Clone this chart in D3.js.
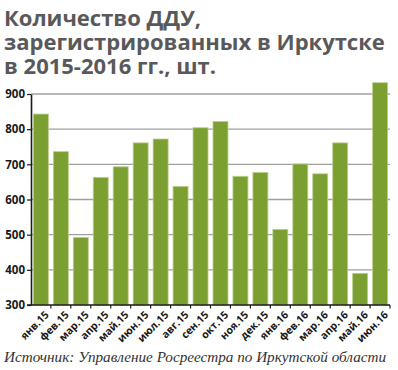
<!DOCTYPE html>
<html>
<head>
<meta charset="utf-8">
<script src="https://cdn.jsdelivr.net/npm/d3@7"></script>
<style>
  body { margin: 0; background: #fff; }
  svg { display: block; }
</style>
</head>
<body>
<svg id="chart"></svg>
<script>
// Data
const months = ['янв.15', 'фев.15', 'мар.15', 'апр.15', 'май.15', 'июн.15', 'июл.15', 'авг.15', 'сен.15',
    'окт.15', 'ноя.15', 'дек.15', 'янв.16', 'фев.16', 'мар.16', 'апр.16', 'май.16', 'июн.16'];
const counts = [843, 736, 492, 663, 693, 761, 772, 637, 804, 822, 666, 677, 515, 701, 673, 761, 390, 932];
const yTicks = [300, 400, 500, 600, 700, 800, 900];
const titleLines = ['Количество ДДУ,', 'зарегистрированных в Иркутске', 'в 2015-2016 гг., шт.'];
const sourceText = 'Источник: Управление Росреестра по Иркутской области';

const width = 398;
const height = 370;
const margin = { top: 94, right: 8, bottom: 65, left: 31 };

const svg = d3.select('#chart')
    .attr('width', width)
    .attr('height', height);

// Title (one text block, one tspan per line)
svg.append('text')
    .attr('fill', '#59595b')
    .attr('font-family', 'Open Sans')
    .attr('font-weight', 700)
    .attr('font-size', '22px')
    .selectAll('tspan')
    .data(titleLines)
    .enter()
    .append('tspan')
    .attr('x', 4)
    .attr('y', (d, i) => 26 + i * 24)
    .text(d => d);

const x = d3.scaleBand()
    .domain(months)
    .range([margin.left, width - margin.right])
    .paddingInner(0.25)
    .paddingOuter(0.12);

const y = d3.scaleLinear()
    .domain([300, 900])
    .range([height - margin.bottom, margin.top]);

// Grid lines
svg.append('g')
    .selectAll('line')
    .data(yTicks.slice(1))
    .enter()
    .append('line')
    .attr('x1', margin.left)
    .attr('x2', width - margin.right)
    .attr('y1', d => y(d))
    .attr('y2', d => y(d))
    .attr('stroke', '#a0a0a0')
    .attr('stroke-width', 1.3);

// Bars
svg.append('g')
    .selectAll('rect')
    .data(counts)
    .enter()
    .append('rect')
    .attr('x', (d, i) => x(months[i]))
    .attr('y', d => y(d))
    .attr('width', x.bandwidth())
    .attr('height', d => y(300) - y(d))
    .attr('fill', '#7b9f31')
    .attr('stroke', '#b9cf8c')
    .attr('stroke-width', 0.8);

// Y axis
const yAxis = svg.append('g')
    .attr('transform', `translate(${margin.left},0)`)
    .call(d3.axisLeft(y).tickValues(yTicks).tickSize(4).tickSizeOuter(0).tickPadding(2));

yAxis.select('.domain').attr('stroke', '#1a1a1a').attr('stroke-width', 1.6);
yAxis.selectAll('.tick line').attr('stroke', '#1a1a1a').attr('stroke-width', 1.2);
yAxis.selectAll('.tick text')
    .attr('fill', '#1a1a1a')
    .attr('font-family', 'Open Sans')
    .attr('font-weight', 700)
    .attr('font-size', '11.5px');

// X axis line with ticks at band boundaries
const xBase = y(300);
const bounds = months.map(m => x(m) - x.step() * x.paddingInner() / 2).concat([width - margin.right]);

svg.append('line')
    .attr('x1', margin.left - 4)
    .attr('x2', width - margin.right)
    .attr('y1', xBase)
    .attr('y2', xBase)
    .attr('stroke', '#1a1a1a')
    .attr('stroke-width', 1.6);

svg.append('g')
    .selectAll('line')
    .data(bounds.slice(1))
    .enter()
    .append('line')
    .attr('x1', d => d)
    .attr('x2', d => d)
    .attr('y1', xBase)
    .attr('y2', xBase + 3.5)
    .attr('stroke', '#1a1a1a')
    .attr('stroke-width', 1.2);

// Rotated month labels
svg.append('g')
    .selectAll('text')
    .data(months)
    .enter()
    .append('text')
    .attr('transform', d => `translate(${x(d) + x.bandwidth() / 2 + 6},${xBase + 8}) rotate(-45)`)
    .attr('text-anchor', 'end')
    .attr('dy', '0.35em')
    .attr('fill', '#1a1a1a')
    .attr('font-family', 'Open Sans')
    .attr('font-weight', 700)
    .attr('font-size', '10.5px')
    .text(d => d);

// Source
svg.append('text')
    .attr('x', 4)
    .attr('y', 362)
    .attr('fill', '#333')
    .attr('font-family', 'Liberation Serif')
    .attr('font-style', 'italic')
    .attr('font-size', '15px')
    .attr('textLength', 382)
    .attr('lengthAdjust', 'spacingAndGlyphs')
    .text(sourceText);
</script>
</body>
</html>
